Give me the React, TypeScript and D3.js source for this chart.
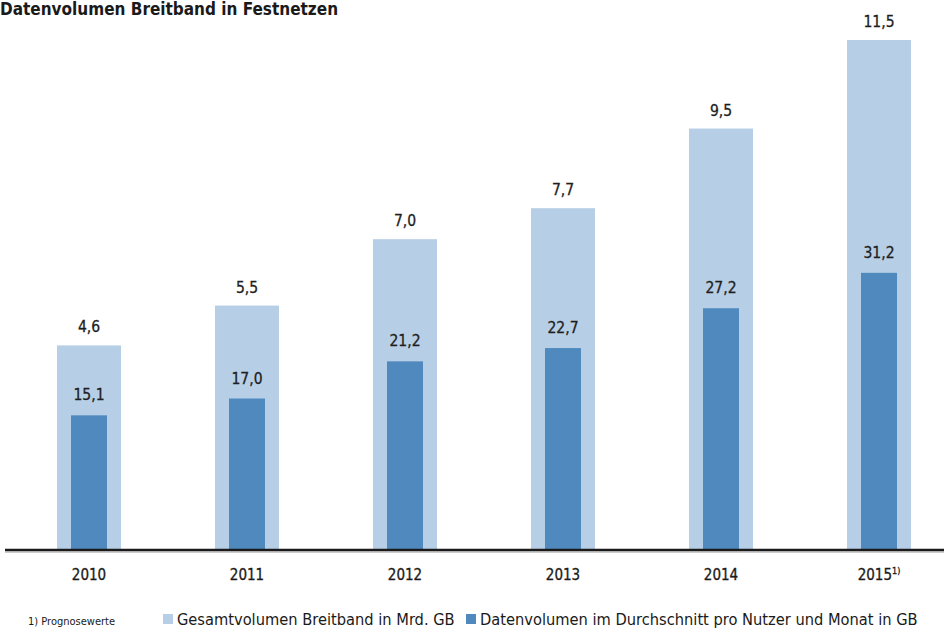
import React from 'react';
import * as d3 from 'd3';

const years = ['2010', '2011', '2012', '2013', '2014', '2015'];
const totalVolume = [4.6, 5.5, 7.0, 7.7, 9.5, 11.5];
const perUserVolume = [15.1, 17.0, 21.2, 22.7, 27.2, 31.2];
const seriesNames = [
  'Gesamtvolumen Breitband in Mrd. GB',
  'Datenvolumen im Durchschnitt pro Nutzer und Monat in GB',
];
const footnote = '1) Prognosewerte';
const title = 'Datenvolumen Breitband in Festnetzen';

const width = 944;
const height = 635;
const light = '#b7cfe6';
const dark = '#4f89be';
const font = '"DejaVu Sans Condensed", "Open Sans", sans-serif';

const fmt = (v: number) => v.toFixed(1).replace('.', ',');

export default function App() {
  const x = d3.scaleBand().domain(years).range([57, 911]).paddingInner(0.595).paddingOuter(0);
  const baseY = 549;
  const yTotal = d3.scaleLinear().domain([0, 11.5]).range([baseY, 40]);
  const yUser = d3.scaleLinear().domain([0, 57.5]).range([baseY, 40]);
  const bw = x.bandwidth();
  const innerW = 36;

  return (
    <svg width={width} height={height} style={{ position: 'absolute', left: 0, top: 0 }} fontFamily={font}>
      <text x={0} y={15} fontSize={17} fontWeight="bold" fill="#1a1a1a">{title}</text>

      {years.map((yr, i) => {
        const x0 = x(yr)!;
        const cx = x0 + bw / 2;
        return (
          <g key={yr}>
            <rect x={x0} y={yTotal(totalVolume[i])} width={bw} height={baseY - yTotal(totalVolume[i])} fill={light} />
            <rect x={cx - innerW / 2} y={yUser(perUserVolume[i])} width={innerW} height={baseY - yUser(perUserVolume[i])} fill={dark} />
            <text x={cx} y={yTotal(totalVolume[i]) - 13} textAnchor="middle" fontSize={15.5} fill="#1e1e1e" stroke="#1e1e1e" strokeWidth={0.3}>{fmt(totalVolume[i])}</text>
            <text x={cx} y={yUser(perUserVolume[i]) - 15} textAnchor="middle" fontSize={15.5} fill="#1e1e1e" stroke="#1e1e1e" strokeWidth={0.3}>{fmt(perUserVolume[i])}</text>
            <text x={cx} y={580} textAnchor="middle" fontSize={15} fill="#1a1a1a" stroke="#1a1a1a" strokeWidth={0.3}>
              {yr}
              {i === years.length - 1 && <tspan fontSize={9} dy={-6}>1)</tspan>}
            </text>
          </g>
        );
      })}

      <line x1={5} x2={944} y1={baseY + 1} y2={baseY + 1} stroke="#1a1a1a" strokeWidth={2.5} />
      <line x1={5} x2={944} y1={baseY + 3} y2={baseY + 3} stroke="#9a9a9a" strokeWidth={1.2} />

      <text x={28} y={625} fontSize={11} fill="#1a1a1a">{footnote}</text>
      <rect x={163} y={614} width={10} height={10} fill={light} />
      <text x={177} y={625} fontSize={16.3} fill="#1a1a1a">{seriesNames[0]}</text>
      <rect x={466} y={614} width={10} height={10} fill={dark} />
      <text x={480} y={625} fontSize={16.3} fill="#1a1a1a">{seriesNames[1]}</text>
    </svg>
  );
}
